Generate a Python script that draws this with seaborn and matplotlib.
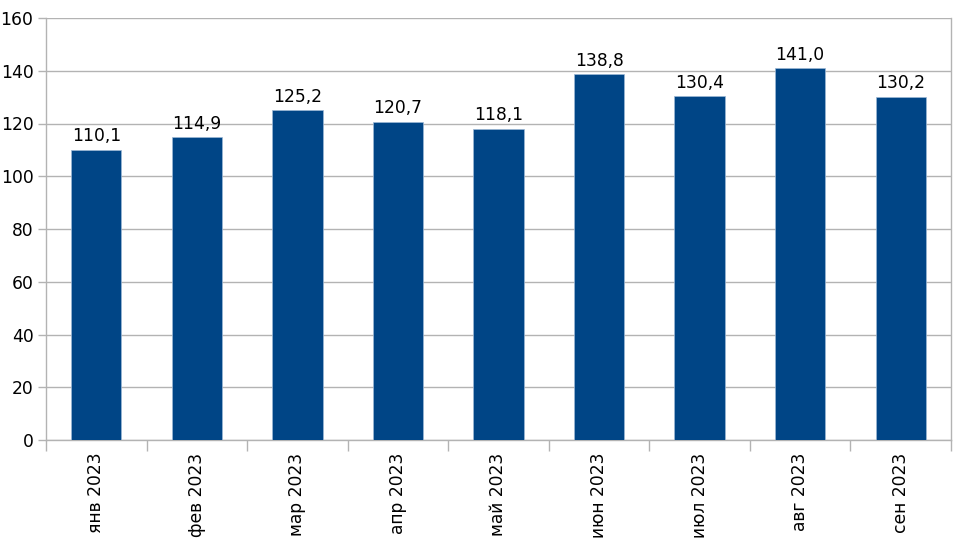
import matplotlib
matplotlib.use("Agg")
import matplotlib.pyplot as plt
import seaborn as sns
import pandas as pd
import numpy as np

categories = ["янв 2023", "фев 2023", "мар 2023", "апр 2023", "май 2023",
              "июн 2023", "июл 2023", "авг 2023", "сен 2023"]
values = [110.1, 114.9, 125.2, 120.7, 118.1, 138.8, 130.4, 141.0, 130.2]
yticks = [0, 20, 40, 60, 80, 100, 120, 140, 160]

sns.set_theme(style="white")
plt.rcParams['font.family'] = ['DejaVu Sans']

df = pd.DataFrame({"cat": categories, "val": values})

fig = plt.figure(figsize=(9.62, 5.41), dpi=100)
ax = fig.add_axes([46/962, 1-440/541, (951-46)/962, (440-18)/541])

sns.barplot(data=df, x="cat", y="val", color="#004586", width=0.5,
            saturation=1, edgecolor="#9db8d6", linewidth=0.5, ax=ax, zorder=3)

ax.set_ylim(0, 160)
ax.set_xlim(-0.5, len(categories) - 0.5)
ax.set_yticks(yticks)
ax.set_yticklabels([str(t) for t in yticks], fontsize=12.3, color="black")
ax.yaxis.grid(True, color="#b3b3b3", linewidth=1, zorder=0)
ax.set_axisbelow(True)

ax.set_xticks(range(len(categories)))
ax.set_xticklabels(categories, rotation=90, fontsize=12.3, color="black")
ax.set_xticks(np.arange(-0.5, len(categories)), minor=True)
ax.tick_params(axis="x", which="major", length=0, pad=9)
ax.tick_params(axis="x", which="minor", length=8, width=1, color="#b3b3b3", bottom=True)
ax.tick_params(axis="y", which="major", length=6, width=1, color="#b3b3b3", left=True, pad=3)
ax.set_xlabel("")
ax.set_ylabel("")

ax.spines["top"].set_visible(False)
for s in ["left", "right", "bottom"]:
    ax.spines[s].set_visible(True)
    ax.spines[s].set_color("#b3b3b3")
    ax.spines[s].set_linewidth(1)

for i, v in enumerate(values):
    ax.annotate(f"{v:.1f}".replace(".", ","), (i, v), xytext=(0, 3),
                textcoords="offset points", ha="center", va="bottom",
                fontsize=12.3, color="black")

fig.savefig("out.png", dpi=100, facecolor="white")
